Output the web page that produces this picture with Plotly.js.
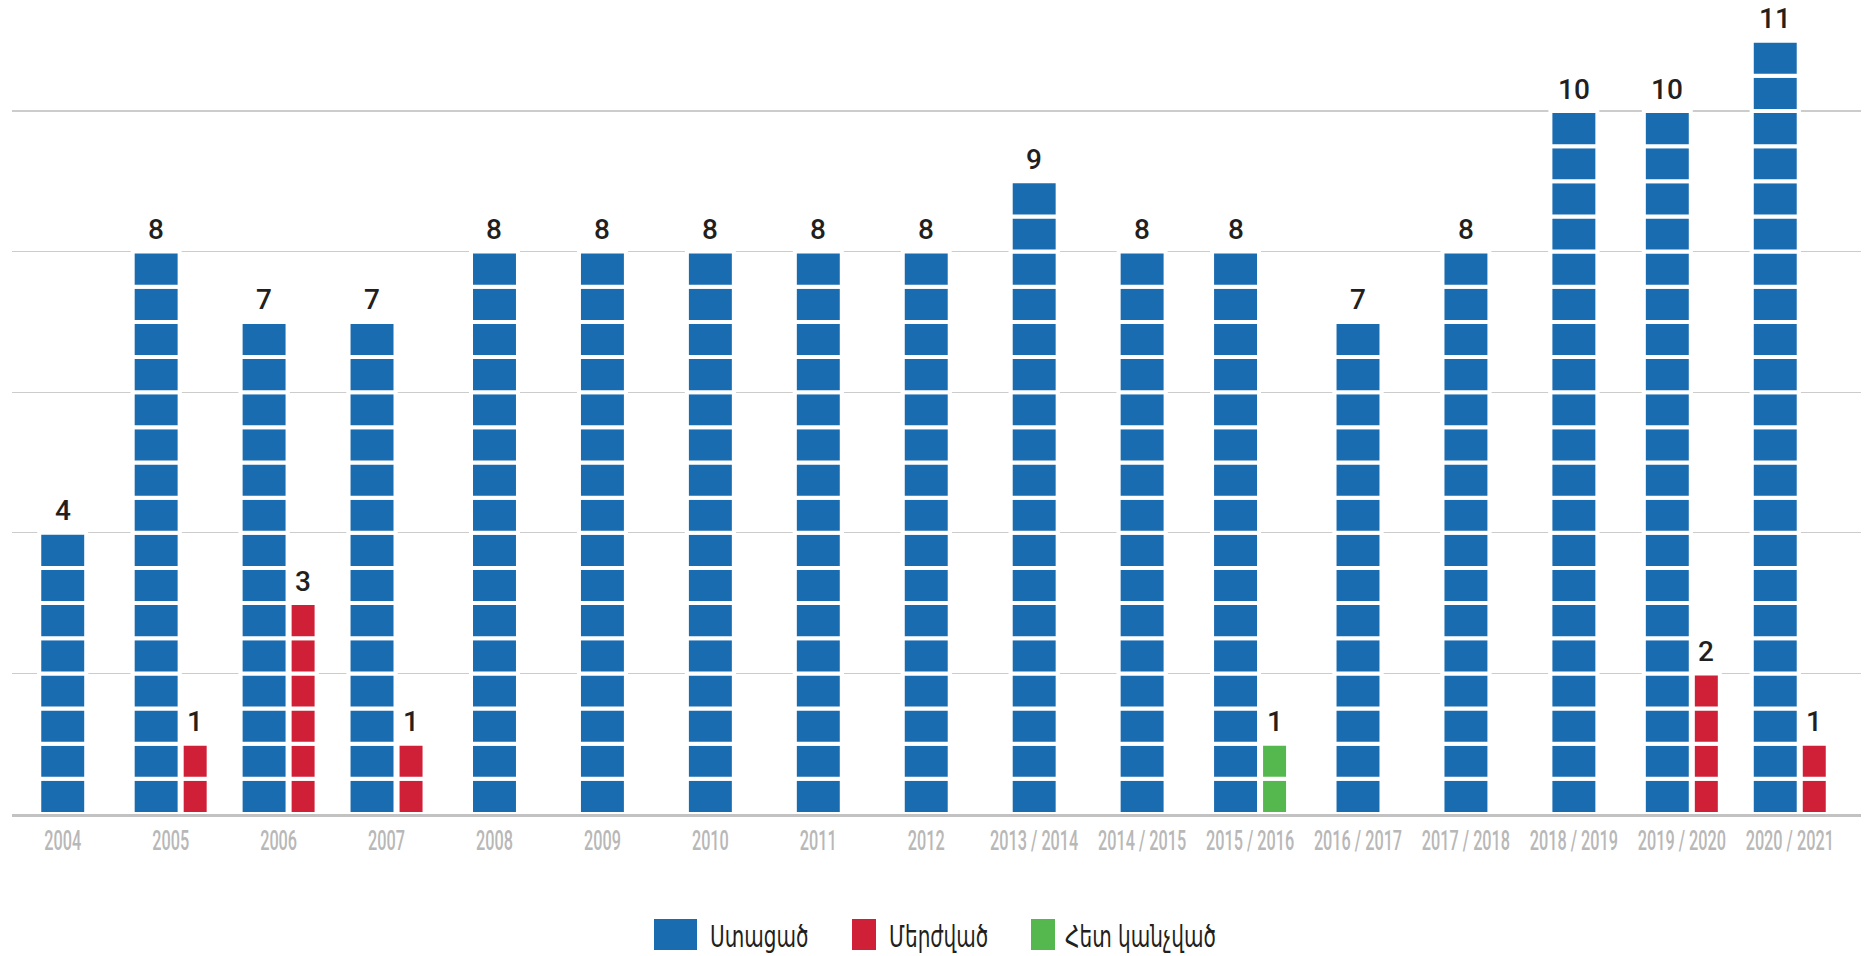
<!DOCTYPE html>
<html>
<head>
<meta charset="utf-8">
<script src="https://cdn.plot.ly/plotly-3.0.1.min.js"></script>
<style>
  html, body { margin: 0; padding: 0; background: #fff; }
  #chart { width: 1874px; height: 956px; }
</style>
</head>
<body>
<div id="chart"></div>
<script>
// ---- data ----
const categories = ['2004','2005','2006','2007','2008','2009','2010','2011','2012',
  '2013 / 2014','2014 / 2015','2015 / 2016','2016 / 2017','2017 / 2018','2018 / 2019','2019 / 2020','2020 / 2021'];
const received  = [4, 8, 7, 7, 8, 8, 8, 8, 8, 9, 8, 8, 7, 8, 10, 10, 11];
const rejected  = [null, 1, 3, 1, null, null, null, null, null, null, null, null, null, null, null, 2, 1];
const withdrawn = [null, null, null, null, null, null, null, null, null, null, null, 1, null, null, null, null, null];
const seriesNames = ['Ստացած', 'Մերժված', 'Հետ կանչված'];
const seriesColors = ['#1a6cb0', '#cf2037', '#55b84f'];
const segmentSize = 0.5; // each block in the bars stands for half a unit

// ---- layout helpers ----
const hasSecond = categories.map((c, i) => rejected[i] != null || withdrawn[i] != null);
const blueWidth = 0.435, secondWidth = 0.25;
const blueOffset = hasSecond.map(p => p ? -0.352 : -blueWidth / 2);
const secondOffset = categories.map(() => 0.102);

const traces = [];
function addSegments(values, color, width, offset, group) {
  const maxV = Math.max(...values.filter(v => v != null));
  const n = Math.round(maxV / segmentSize);
  for (let k = 0; k < n; k++) {
    const lvl = k * segmentSize;
    traces.push({
      type: 'bar',
      x: categories,
      y: values.map(v => (v != null && v > lvl) ? segmentSize : null),
      base: values.map(() => lvl),
      width: categories.map(() => width),
      offset: offset,
      offsetgroup: group,
      marker: { color: color, line: { color: '#ffffff', width: 4 } },
      hoverinfo: 'skip',
      showlegend: false
    });
  }
}
addSegments(received, seriesColors[0], blueWidth, blueOffset, 'a');
addSegments(rejected, seriesColors[1], secondWidth, secondOffset, 'b');
addSegments(withdrawn, seriesColors[2], secondWidth, secondOffset, 'b');

// value labels (x given as category index + bar centre offset)
const annotations = [];
const labelFont = { family: 'Roboto', size: 28, color: '#231f20', weight: 500 };
function addLabels(values, centers) {
  values.forEach((v, i) => {
    if (v == null) return;
    annotations.push({
      x: i + centers[i], y: v, xref: 'x', yref: 'y',
      text: String(v), showarrow: false,
      xanchor: 'center', yanchor: 'middle',
      yshift: 22,
      font: labelFont
    });
  });
}
addLabels(received, blueOffset.map(o => o + blueWidth / 2));
addLabels(rejected, secondOffset.map(o => o + secondWidth / 2));
addLabels(withdrawn, secondOffset.map(o => o + secondWidth / 2));

// custom legend (large swatches)
const plotL = 12, plotW = 1849, plotB = 814, plotH = 804;
const toPX = px => (px - plotL) / plotW;
const toPY = py => (plotB - py) / plotH;
const swatchX = [[654, 697], [852, 876], [1031, 1055]];
const textX = [708, 887, 1063];
const shapes = [];
seriesNames.forEach((name, i) => {
  shapes.push({
    type: 'rect', xref: 'paper', yref: 'paper', layer: 'above',
    x0: toPX(swatchX[i][0]), x1: toPX(swatchX[i][1]),
    y0: toPY(950), y1: toPY(919),
    fillcolor: seriesColors[i], line: { width: 0 }
  });
  annotations.push({
    xref: 'paper', yref: 'paper', x: toPX(textX[i]), y: toPY(936),
    xanchor: 'left', yanchor: 'middle', showarrow: false,
    text: name,
    font: { family: 'DejaVu Sans Condensed', size: 31, color: '#231f20' }
  });
});

const layout = {
  width: 1874, height: 956,
  margin: { l: 12, r: 13, t: 10, b: 142 },
  paper_bgcolor: '#ffffff', plot_bgcolor: '#ffffff',
  barmode: 'overlay',
  showlegend: false,
  xaxis: {
    type: 'category',
    categoryorder: 'array', categoryarray: categories,
    range: [-0.47, 16.66],
    showgrid: false, zeroline: false,
    showline: true, linecolor: '#c2c2c2', linewidth: 3,
    ticks: '', ticklabelstandoff: 4, tickangle: 0,
    tickfont: { family: 'Roboto', size: 28, color: '#b8b8b8', weight: 500 },
    fixedrange: true
  },
  yaxis: {
    range: [0, 11.437],
    dtick: 2, tick0: 0,
    showgrid: true, gridcolor: '#cccccc', gridwidth: 1.3,
    zeroline: false, showline: false,
    showticklabels: false, ticks: '',
    fixedrange: true
  },
  annotations: annotations,
  shapes: shapes
};

function squeeze(el, s, mode, dy) {
  const t = el.getAttribute('transform') || '';
  let px;
  if (mode === 'left') {
    px = el.getBBox().x;
  } else {
    px = parseFloat(el.getAttribute('x') || '0');
  }
  el.setAttribute('transform', t + ` translate(${px},${dy || 0}) scale(${s},1) translate(${-px},0)`);
}

Plotly.newPlot('chart', traces, layout, { displayModeBar: false, staticPlot: true }).then(() => {
  // condensed look for tick labels
  document.querySelectorAll('.xtick text').forEach(el => squeeze(el, 0.58, 'center', -5));
  // condensed look for legend labels
  document.querySelectorAll('.annotation-text').forEach(el => {
    if (seriesNames.includes(el.textContent)) squeeze(el, 0.72, 'left', 0);
  });
});
</script>
</body>
</html>
